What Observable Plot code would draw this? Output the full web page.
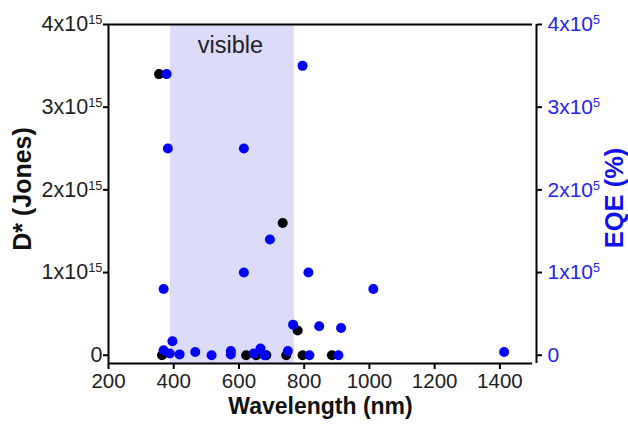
<!DOCTYPE html>
<html><head><meta charset="utf-8">
<script src="https://cdn.jsdelivr.net/npm/d3@7"></script>
<script src="https://cdn.jsdelivr.net/npm/@observablehq/plot@0.6"></script>
<style>body{margin:0;background:#fff}</style>
</head><body><div id="chart"></div>
<script>
const xTicks = [200, 400, 600, 800, 1000, 1200, 1400];
const yTicks = [0, 1, 2, 3, 4];
const leftExponent = "15";
const rightExponent = "5";
const visibleRange = [390, 770];
// D* (×10^15 Jones)
const dstarWl  = [355, 364, 622, 653, 684, 734, 745, 780, 795, 885];
const dstarVal = [3.4, 0, 0, 0, 0, 1.6, 0, 0.3, 0, 0];
// EQE (×10^5 %)
const eqeWl  = [378, 382, 615, 795, 695, 615, 813, 369, 1012, 766, 846, 913, 396, 369, 388, 418, 466, 516, 575, 575, 645, 666, 678, 750, 816, 905, 1413];
const eqeVal = [3.4, 2.5, 2.5, 3.5, 1.4, 1.0, 1.0, 0.8, 0.8, 0.37, 0.35, 0.33, 0.17, 0.06, 0.02, 0.01, 0.04, 0, 0.05, 0.01, 0.02, 0.08, 0, 0.05, 0, 0, 0.04];

const dstar = dstarWl.map((w, i) => ({w, v: dstarVal[i]}));
const eqe = eqeWl.map((w, i) => ({w, v: eqeVal[i]}));
const fmt = d => d === 0 ? "0" : d + "x10";

const chart = Plot.plot({
  width: 628, height: 427,
  marginLeft: 108, marginRight: 96, marginTop: 24, marginBottom: 64,
  style: {fontFamily: "Arial, 'Liberation Sans', sans-serif", background: "#fff", color: "#000"},
  x: {domain: [200, 1500]},
  y: {domain: [-0.1, 4]},
  marks: [
    Plot.rect([visibleRange], {x1: d => d[0], x2: d => d[1], fill: "#dcdcfa"}),
    Plot.text([{w: (visibleRange[0] + visibleRange[1]) / 2, t: "visible"}], {x: "w", text: "t", frameAnchor: "top", lineAnchor: "middle", dx: -2, dy: 21, fontSize: 23.5, fill: "#222"}),
    Plot.ruleY([4], {strokeWidth: 2}),
    Plot.ruleY([-0.1], {strokeWidth: 2}),
    Plot.ruleX([200], {strokeWidth: 2}),
    Plot.ruleX([1500], {strokeWidth: 2, dx: 4}),
    Plot.axisX({ticks: xTicks, tickSize: 6, strokeWidth: 2, tickPadding: 4, fontSize: 20.5, fill: "#222", tickFormat: d => String(d), label: null}),
    Plot.axisY({ticks: yTicks, anchor: "left", tickSize: 5, strokeWidth: 2, tickPadding: 1, fontSize: 21.5, fill: "#222", tickFormat: fmt, label: null}),
    Plot.axisY({ticks: yTicks, anchor: "right", dx: 4, tickSize: 5, strokeWidth: 2, tickPadding: 6, fontSize: 21, fill: "#2424f4", tickFormat: fmt, label: null}),
    Plot.text(["Wavelength (nm)"], {text: d => d, frameAnchor: "bottom", dy: 50, fontSize: 23, fontWeight: "bold", fill: "#111"}),
    Plot.text(["D* (Jones)"], {text: d => d, frameAnchor: "left", textAnchor: "middle", dx: -86, dy: -5, rotate: -90, fontSize: 25, fontWeight: "bold", fill: "#111"}),
    Plot.text(["EQE (%)"], {text: d => d, frameAnchor: "right", textAnchor: "middle", dx: 82, dy: 4, rotate: -90, fontSize: 25.5, fontWeight: "bold", fill: "#1010f0"}),
    Plot.dot(dstar, {x: "w", y: "v", r: 5, fill: "#000"}),
    Plot.dot(eqe, {x: "w", y: "v", r: 5, fill: "#0000ff"})
  ]
});

chart.querySelectorAll('g[aria-label="y-axis tick label"]').forEach(g => {
  const right = g.getAttribute("text-anchor") === "start";
  g.querySelectorAll("text").forEach(t => {
    if (t.textContent.endsWith("x10")) {
      const ts = document.createElementNS("http://www.w3.org/2000/svg", "tspan");
      ts.setAttribute("dy", "-0.55em");
      ts.setAttribute("font-size", "0.6em");
      ts.textContent = right ? rightExponent : leftExponent;
      t.appendChild(ts);
    }
  });
});
document.getElementById("chart").appendChild(chart);
</script></body></html>
